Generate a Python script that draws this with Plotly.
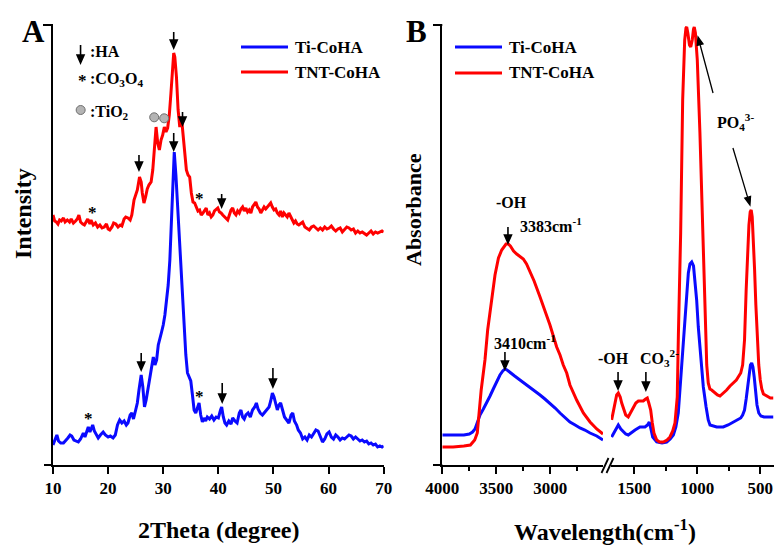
import math
import plotly.graph_objects as go

W, H = 774, 545
FONT = "Liberation Serif"
BLUE = "#0a0aff"
RED = "#ff0000"

# ---------------- Panel A : XRD ----------------
theta_ti = [10.0, 10.4, 10.7, 11.0, 11.4, 11.9, 12.3, 12.7, 13.1, 13.4, 13.8, 14.2, 14.6, 15.0, 15.3, 15.5,
            15.8, 16.1, 16.4, 16.7, 17.0, 17.2, 17.5, 17.9, 18.2, 18.6, 19.1, 19.5, 20.0, 20.4, 20.9, 21.3,
            21.7, 22.1, 22.5, 22.9, 23.3, 23.6, 24.0, 24.3, 24.6, 25.0, 25.3, 25.6, 26.0, 26.3, 26.6, 26.9,
            27.3, 27.6, 27.9, 28.2, 28.5, 28.8, 29.1, 29.4, 29.7, 30.0, 30.3, 30.6, 30.9, 31.2, 31.5, 31.8,
            32.0, 32.3, 32.6, 32.9, 33.2, 33.5, 33.8, 34.1, 34.4, 34.7, 35.0, 35.3, 35.6, 35.9, 36.2, 36.5,
            36.8, 37.1, 37.4, 37.7, 38.0, 38.4, 38.8, 39.2, 39.6, 40.0, 40.4, 40.6, 40.9, 41.2, 41.5, 41.9,
            42.3, 42.6, 43.0, 43.4, 43.8, 44.1, 44.4, 44.7, 45.0, 45.4, 45.8, 46.2, 46.6, 46.9, 47.2, 47.6,
            48.0, 48.4, 48.8, 49.2, 49.5, 49.8, 50.1, 50.4, 50.7, 51.0, 51.3, 51.6, 52.0, 52.4, 52.8, 53.2,
            53.5, 53.8, 54.2, 54.5, 54.9, 55.3, 55.7, 56.1, 56.5, 56.9, 57.3, 57.7, 58.1, 58.5, 58.9, 59.3,
            59.7, 60.1, 60.5, 60.9, 61.3, 61.7, 62.1, 62.5, 62.9, 63.3, 63.7, 64.1, 64.5, 64.9, 65.3, 65.7,
            66.1, 66.5, 66.9, 67.3, 67.7, 68.1, 68.5, 68.9, 69.3, 69.7, 70.0]
xrd_ti = [20, 26, 30, 24, 22, 22, 24, 27, 30, 29, 25, 24, 23, 26, 30, 32,
          28, 34, 38, 33, 37, 40, 34, 30, 27, 30, 33, 30, 28, 29, 27, 30,
          40, 45, 42, 44, 40, 42, 50, 52, 46, 55, 62, 75, 90, 78, 58, 65,
          78, 85, 95, 108, 100, 105, 120, 128, 133, 140, 150, 165, 180, 205, 250, 300,
          313, 290, 260, 230, 190, 160, 135, 110, 92, 88, 84, 70, 55, 52, 58, 62,
          50, 43, 47, 44, 48, 46, 49, 45, 48, 47, 55, 58, 48, 42, 40, 44,
          41, 47, 44, 42, 52, 55, 48, 46, 50, 52, 48, 55, 58, 62, 56, 52,
          50, 53, 56, 58, 64, 72, 68, 60, 55, 60, 62, 56, 48, 45, 42, 50,
          52, 44, 40, 35, 32, 26, 28, 25, 30, 28, 32, 35, 34, 28, 23, 26,
          31, 33, 28, 26, 30, 28, 25, 27, 26, 28, 30, 29, 26, 28, 26, 24,
          25, 23, 24, 21, 22, 20, 21, 18, 19, 18, 19]

theta_tnt = [10.0, 10.3, 10.6, 10.9, 11.2, 11.5, 11.9, 12.2, 12.6, 13.0, 13.3, 13.7, 14.1, 14.4, 14.7, 15.0,
             15.4, 15.7, 16.0, 16.3, 16.7, 16.9, 17.3, 17.7, 18.1, 18.5, 18.9, 19.3, 19.7, 20.0, 20.3, 20.7,
             21.0, 21.4, 21.8, 22.2, 22.5, 22.9, 23.2, 23.6, 24.0, 24.3, 24.7, 25.0, 25.3, 25.7, 26.0, 26.2,
             26.5, 26.8, 27.1, 27.4, 27.8, 28.1, 28.4, 28.7, 29.0, 29.3, 29.6, 29.9, 30.2, 30.5, 30.8, 31.1,
             31.4, 31.7, 31.9, 32.1, 32.4, 32.7, 33.0, 33.3, 33.6, 33.9, 34.2, 34.5, 34.8, 35.1, 35.4, 35.7,
             36.0, 36.3, 36.6, 36.9, 37.2, 37.5, 37.8, 38.1, 38.4, 38.7, 39.0, 39.3, 39.6, 39.9, 40.2, 40.5,
             40.8, 41.1, 41.4, 41.7, 42.0, 42.3, 42.6, 42.9, 43.2, 43.5, 43.8, 44.1, 44.4, 44.7, 45.0, 45.3,
             45.6, 45.9, 46.2, 46.5, 46.8, 47.1, 47.4, 47.7, 48.0, 48.3, 48.6, 48.9, 49.2, 49.5, 49.8, 50.1,
             50.4, 50.7, 51.0, 51.3, 51.6, 51.9, 52.2, 52.5, 52.8, 53.1, 53.4, 53.7, 54.0, 54.3, 54.6, 55.0,
             55.3, 55.7, 56.1, 56.5, 56.9, 57.3, 57.7, 58.1, 58.5, 58.9, 59.3, 59.7, 60.1, 60.5, 60.9, 61.3,
             61.7, 62.1, 62.5, 62.9, 63.3, 63.7, 64.1, 64.5, 64.9, 65.3, 65.7, 66.1, 66.5, 66.9, 67.3, 67.7,
             68.1, 68.5, 68.9, 69.3, 69.7, 70.0]
xrd_tnt = [250, 244, 243, 241, 245, 244, 247, 243, 245, 243, 246, 242, 244, 246, 250, 243,
           241, 240, 243, 246, 241, 245, 240, 242, 238, 240, 237, 238, 241, 236, 235, 238,
           242, 241, 238, 240, 239, 246, 248, 247, 245, 250, 265, 270, 275, 288, 283, 272,
           262, 268, 276, 280, 283, 295, 318, 338, 322, 315, 325, 330, 338, 333, 337, 350,
           372, 400, 412, 408, 388, 355, 338, 348, 332, 315, 295, 290, 288, 272, 263, 262,
           258, 254, 255, 250, 252, 255, 257, 250, 252, 248, 250, 254, 256, 257, 253, 252,
           250, 248, 246, 245, 250, 255, 257, 252, 250, 254, 252, 256, 258, 254, 257, 253,
           255, 252, 258, 260, 263, 258, 256, 252, 255, 258, 256, 258, 261, 262, 258, 255,
           256, 252, 250, 254, 248, 252, 250, 248, 252, 249, 245, 242, 244, 241, 240, 242,
           243, 238, 236, 235, 238, 239, 237, 235, 237, 235, 238, 236, 237, 239, 236, 234,
           236, 237, 233, 235, 238, 237, 235, 236, 232, 234, 232, 233, 231, 230, 232, 234,
           231, 233, 232, 233, 234, 233]

xrd_ticks = [10, 20, 30, 40, 50, 60, 70]

# ---------------- Panel B : FTIR (broken axis) ----------------
wn_hi_ti = [4000, 3900, 3800, 3750, 3720, 3697, 3670, 3651, 3620, 3589, 3558, 3528, 3495, 3466, 3440, 3420,
            3400, 3373, 3330, 3281, 3230, 3188, 3140, 3095, 3050, 3003, 2955, 2910, 2860, 2818, 2770, 2725,
            2680, 2632, 2570, 2512]
ab_hi_ti = [30, 30, 30, 31, 33, 36, 44, 50, 56, 62, 69, 76, 84, 90, 94, 96,
            95, 93, 89, 85, 81, 78, 74, 70, 66, 62, 57, 52, 47, 43, 40, 37,
            35, 32, 29, 25]

wn_hi_tnt = [4000, 3900, 3800, 3740, 3700, 3676, 3640, 3605, 3580, 3543, 3512, 3480, 3450, 3410, 3389, 3370,
             3340, 3311, 3280, 3250, 3220, 3188, 3150, 3095, 3050, 3003, 2941, 2910, 2880, 2848, 2818, 2756,
             2694, 2632, 2570, 2512]
ab_hi_tnt = [18, 18, 19, 20, 25, 32, 75, 105, 135, 168, 190, 207, 215, 221, 221, 219,
             214, 211, 208, 206, 201, 194, 184, 168, 155, 140, 118, 110, 100, 92, 80, 65,
             52, 43, 36, 31]

wn_lo_ti = [1680, 1653, 1627, 1607, 1587, 1568, 1548, 1520, 1494, 1455, 1415, 1395, 1381, 1368, 1354, 1322,
            1280, 1243, 1215, 1190, 1170, 1151, 1138, 1124, 1110, 1098, 1084, 1071, 1058, 1044, 1030, 1018,
            1005, 992, 972, 952, 930, 913, 899, 870, 846, 820, 794, 755, 714, 690, 675, 655,
            640, 625, 612, 600, 590, 578, 568, 558, 548, 538, 526, 512, 495, 470, 440, 397]
ab_lo_ti = [28, 34, 40, 36, 33, 31, 30, 33, 35, 38, 38, 40, 43, 36, 28, 23,
            22, 23, 26, 30, 38, 52, 75, 102, 125, 145, 175, 192, 201, 203, 199, 185,
            165, 138, 105, 78, 58, 45, 40, 39, 38, 38, 38, 40, 43, 45, 46, 47,
            50, 55, 66, 80, 92, 100, 102, 98, 88, 74, 60, 52, 49, 48, 48, 48]

wn_lo_tnt = [1680, 1665, 1653, 1640, 1627, 1612, 1600, 1587, 1568, 1548, 1530, 1508, 1488, 1468, 1450, 1429,
             1410, 1397, 1385, 1370, 1357, 1344, 1322, 1300, 1270, 1240, 1217, 1195, 1177, 1165, 1159, 1150,
             1140, 1132, 1116, 1100, 1090, 1084, 1075, 1062, 1052, 1040, 1030, 1024, 1015, 1000, 979, 957,
             939, 925, 913, 900, 886, 860, 840, 820, 800, 767, 740, 714, 690, 675, 655, 640,
             625, 612, 600, 590, 580, 572, 564, 555, 545, 535, 525, 512, 500, 488, 475, 463,
             440, 420, 397]
ab_lo_tnt = [45, 55, 63, 70, 72, 68, 62, 57, 50, 48, 52, 58, 62, 64, 64, 64,
             66, 67, 62, 55, 42, 32, 25, 23, 23, 25, 28, 34, 42, 55, 68, 130,
             190, 232, 365, 425, 437, 438, 432, 420, 418, 425, 436, 438, 432, 405, 332, 232,
             138, 100, 82, 76, 75, 72, 70, 69, 71, 75, 79, 82, 85, 88, 92, 100,
             125, 175, 215, 240, 253, 255, 248, 228, 195, 160, 128, 100, 85, 76, 71, 70,
             68, 67, 67]

wn_ticks_hi = [4000, 3500, 3000]
wn_ticks_lo = [1500, 1000, 500]
wn_minor_hi = [3750, 3250, 2750]
wn_minor_lo = [1250, 750]


# ---------------- geometry helpers (pixel -> paper) ----------------
def PX(px):
    return px / W


def PY(py):
    return 1 - py / H


A_X0, A_X1 = 53.0, 383.7
B_X0, B_XB1, B_XB2, B_X1 = 442.3, 603.0, 611.0, 774.0
Y_TOP, Y_BOT = 25.0, 465.0
YDOM = [PY(Y_BOT), PY(Y_TOP)]

fig = go.Figure()
fig.add_trace(go.Scatter(x=theta_ti, y=xrd_ti, mode="lines", name="Ti-CoHA",
                         line=dict(color=BLUE, width=3), xaxis="x", yaxis="y", showlegend=False))
fig.add_trace(go.Scatter(x=theta_tnt, y=xrd_tnt, mode="lines", name="TNT-CoHA",
                         line=dict(color=RED, width=3), xaxis="x", yaxis="y", showlegend=False))
fig.add_trace(go.Scatter(x=wn_hi_ti, y=ab_hi_ti, mode="lines", name="Ti-CoHA",
                         line=dict(color=BLUE, width=3), xaxis="x2", yaxis="y2", showlegend=False))
fig.add_trace(go.Scatter(x=wn_hi_tnt, y=ab_hi_tnt, mode="lines", name="TNT-CoHA",
                         line=dict(color=RED, width=3), xaxis="x2", yaxis="y2", showlegend=False))
fig.add_trace(go.Scatter(x=wn_lo_ti, y=ab_lo_ti, mode="lines", name="Ti-CoHA",
                         line=dict(color=BLUE, width=3), xaxis="x3", yaxis="y2", showlegend=False))
fig.add_trace(go.Scatter(x=wn_lo_tnt, y=ab_lo_tnt, mode="lines", name="TNT-CoHA",
                         line=dict(color=RED, width=3), xaxis="x3", yaxis="y2", showlegend=False))

# TiO2 markers (grey circles) in panel A
fig.add_trace(go.Scatter(x=[28.36, 30.17, 15.02], y=[347.7, 346.7, 355], mode="markers",
                         marker=dict(size=9, color="#b4b4b4", line=dict(color="#707070", width=1)),
                         xaxis="x", yaxis="y", showlegend=False, hoverinfo="skip"))

tickfont = dict(family=FONT, size=17, color="black", weight="bold")
common_x = dict(showline=True, linecolor="black", linewidth=2, ticks="outside", ticklen=7, tickwidth=2,
                tickcolor="black", tickfont=tickfont, showgrid=False, zeroline=False, fixedrange=True,
                automargin=False)
common_y = dict(showline=True, linecolor="black", linewidth=2, ticks="", showticklabels=False,
                showgrid=False, zeroline=False, range=[0, 440], domain=YDOM, fixedrange=True,
                automargin=False)

fig.update_layout(
    width=W, height=H, autosize=False,
    margin=dict(l=0, r=0, t=0, b=0, pad=0, autoexpand=False),
    paper_bgcolor="white", plot_bgcolor="rgba(0,0,0,0)",
    xaxis=dict(common_x, domain=[PX(A_X0), PX(A_X1)], range=[10, 70], tickmode="array",
               tickvals=xrd_ticks, anchor="y"),
    yaxis=dict(common_y, anchor="x"),
    xaxis2=dict(common_x, domain=[PX(B_X0), PX(B_XB1)], range=[4000, 2512], tickmode="array",
                tickvals=wn_ticks_hi, anchor="y2",
                minor=dict(tickmode="array", tickvals=wn_minor_hi, ticks="outside", ticklen=4,
                           tickwidth=2, tickcolor="black")),
    xaxis3=dict(common_x, domain=[PX(B_XB2), PX(B_X1)], range=[1685, 391], tickmode="array",
                tickvals=wn_ticks_lo, anchor="y2",
                minor=dict(tickmode="array", tickvals=wn_minor_lo, ticks="outside", ticklen=4,
                           tickwidth=2, tickcolor="black")),
    yaxis2=dict(common_y, anchor="x2"),
    showlegend=False,
)

shapes = []


def pline(x0, y0, x1, y1, color="black", width=2):
    shapes.append(dict(type="line", xref="paper", yref="paper", x0=PX(x0), y0=PY(y0), x1=PX(x1),
                       y1=PY(y1), line=dict(color=color, width=width)))


def arrow(xr, yr, x, y, dx=0, dy=-17, head_len=8, head_w=7, lw=1.6):
    """Arrow whose tip is at data point (x, y); the tail is offset (dx, dy) screen pixels (y down)."""
    tx, ty = dx, -dy
    L = math.hypot(tx, ty)
    ux, uy = -tx / L, -ty / L
    bx, by = -ux * head_len, -uy * head_len
    qx, qy = -uy * head_w / 2, ux * head_w / 2
    path = (f"M{tx:.2f},{ty:.2f} L{bx:.2f},{by:.2f} "
            f"M0,0 L{bx + qx:.2f},{by + qy:.2f} L{bx - qx:.2f},{by - qy:.2f} Z")
    shapes.append(dict(type="path", xref=xr, yref=yr, xsizemode="pixel", ysizemode="pixel",
                       xanchor=x, yanchor=y, path=path, fillcolor="black",
                       line=dict(color="black", width=lw), layer="above"))


# axis extensions / top ticks
pline(44, Y_BOT, A_X0, Y_BOT)
pline(43, Y_TOP, A_X0, Y_TOP)
pline(433, Y_BOT, B_X0, Y_BOT)
pline(433, Y_TOP, B_X0, Y_TOP)
# axis break marks
pline(601.5, 473, 608.5, 458, width=1.8)
pline(606.5, 473, 613.5, 458, width=1.8)
# legends (manual)
pline(241, 47, 288, 47, BLUE, 3)
pline(241, 72, 288, 72, RED, 3)
pline(455, 47, 502, 47, BLUE, 3)
pline(455, 73, 502, 73, RED, 3)

# panel A arrows
arrow("x", "y", 15.0, 402, dy=-18)
arrow("x", "y", 31.9, 417, dy=-16)
arrow("x", "y", 33.5, 340, dy=-13)
arrow("x", "y", 25.6, 295, dy=-15)
arrow("x", "y", 40.6, 258, dy=-13)
arrow("x", "y", 31.9, 315, dy=-17)
arrow("x", "y", 26.0, 95, dy=-17)
arrow("x", "y", 40.7, 63, dy=-19)
arrow("x", "y", 49.9, 78, dy=-19)
# panel B arrows
arrow("x2", "y2", 3392, 222, dy=-16)
arrow("x2", "y2", 3420, 96, dy=-17)
arrow("x3", "y2", 1629, 76, dy=-17)
arrow("x3", "y2", 1408, 75, dy=-18)
arrow("x3", "y2", 994, 428, dx=15, dy=56, lw=1.3, head_w=6)
arrow("x3", "y2", 582, 260, dx=-17, dy=-57, lw=1.3, head_w=6)

fig.update_layout(shapes=shapes)

ann = []


def text_px(x, y, s, size=16, xanchor="center", angle=0):
    ann.append(dict(xref="paper", yref="paper", x=PX(x), y=PY(y), text=s, showarrow=False,
                    xanchor=xanchor, yanchor="middle", textangle=angle,
                    font=dict(family=FONT, size=size, color="black", weight="bold")))


def text_data(xr, yr, x, y, s, size=16, xanchor="center"):
    ann.append(dict(xref=xr, yref=yr, x=x, y=y, text=s, showarrow=False, xanchor=xanchor,
                    yanchor="middle", font=dict(family=FONT, size=size, color="black", weight="bold")))


# panel labels
text_px(33, 31, "A", size=31)
text_px(417, 31, "B", size=31)
# axis titles
text_px(219, 530, "2Theta (degree)", size=24)
text_px(605, 530, "Wavelength(cm<sup>-1</sup>)", size=24)
text_px(23, 214, "Intensity", size=24, angle=-90)
text_px(414, 209, "Absorbance", size=22, angle=-90)
# legend texts
text_px(293, 47, "Ti-CoHA", size=17, xanchor="left")
text_px(293, 72, "TNT-CoHA", size=17, xanchor="left")
text_px(507, 47, "Ti-CoHA", size=17, xanchor="left")
text_px(507, 73, "TNT-CoHA", size=17, xanchor="left")

# panel A key
text_data("x", "y", 16.4, 413, ":HA", size=16, xanchor="left")
text_data("x", "y", 15.3, 384, "*", size=17)
text_data("x", "y", 16.4, 385, ":CO<sub>3</sub>O<sub>4</sub>", size=16, xanchor="left")
text_data("x", "y", 16.4, 352, ":TiO<sub>2</sub>", size=16, xanchor="left")

# panel A asterisks
text_data("x", "y", 17.1, 252, "*", size=17)
text_data("x", "y", 36.5, 266, "*", size=17)
text_data("x", "y", 16.5, 47, "*", size=17)
text_data("x", "y", 36.6, 69, "*", size=17)

# panel B annotations
text_data("x2", "y2", 3355, 262, "-OH", size=16)
text_data("x2", "y2", 3299, 240, "3383cm<sup>-1</sup>", size=16, xanchor="left")
text_data("x2", "y2", 3541, 123, "3410cm<sup>-1</sup>", size=16, xanchor="left")
text_data("x3", "y2", 1669, 107, "-OH", size=16)
text_data("x3", "y2", 1471, 107, "CO<sub>3</sub><sup>2-</sup>", size=16, xanchor="left")
text_data("x3", "y2", 860, 343, "PO<sub>4</sub><sup>3-</sup>", size=16, xanchor="left")

fig.update_layout(annotations=ann)
fig.write_html("out.html")
